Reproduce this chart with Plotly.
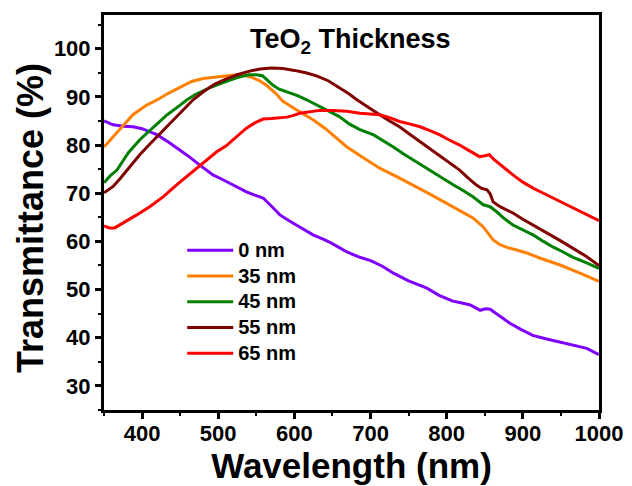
import plotly.graph_objects as go

# Transmittance spectra of TeO2 films of different thickness
labels = ["0 nm", "35 nm", "45 nm", "55 nm", "65 nm"]
colors = ["#8000FF", "#FF8000", "#008000", "#800000", "#FF0000"]

wl_0 = [350, 362, 375, 388, 400, 410, 420, 435, 450, 460, 472, 483, 493, 505, 515, 527, 537, 548,
        559, 570, 581, 592, 603, 614, 625, 637, 648, 659, 669, 686, 700, 715, 730, 750, 774, 790,
        808, 820, 831, 844, 851, 857, 870, 883, 898, 913, 930, 949, 965, 984, 1000]
t_0 = [85.0, 84.2, 83.9, 83.8, 83.4, 82.8, 82.1, 80.6, 79.0, 77.8, 76.3, 75.0, 73.8, 72.9, 72.1,
       71.1, 70.3, 69.6, 69.0, 67.3, 65.5, 64.4, 63.4, 62.3, 61.3, 60.5, 59.7, 58.7, 57.8, 56.7,
       56.0, 54.9, 53.4, 51.8, 50.3, 48.8, 47.6, 47.2, 46.8, 45.7, 46.0, 45.9, 44.5, 43.0, 41.7,
       40.5, 39.8, 39.1, 38.5, 37.8, 36.5]

wl_35 = [350, 362, 375, 388, 406, 420, 435, 450, 465, 480, 495, 510, 525, 535, 545, 555, 565, 575,
         585, 600, 612, 625, 640, 655, 669, 690, 712, 735, 756, 778, 800, 820, 835, 848, 855, 861,
         870, 880, 892, 905, 923, 949, 975, 1000]
t_35 = [79.6, 81.7, 84.2, 86.3, 88.3, 89.4, 90.8, 92.0, 93.2, 93.8, 94.1, 94.4, 94.6, 94.5, 94.0,
        93.3, 92.2, 90.8, 89.1, 87.6, 86.5, 85.2, 83.5, 81.5, 79.6, 77.4, 75.2, 73.4, 71.7, 69.8,
        67.9, 66.1, 64.8, 63.0, 61.5, 60.3, 59.3, 58.7, 58.2, 57.6, 56.5, 55.1, 53.4, 51.7]

wl_45 = [350, 358, 367, 375, 382, 397, 415, 433, 450, 459, 470, 490, 510, 525, 540, 550, 558, 565,
         572, 580, 595, 605, 616, 633, 646, 659, 672, 686, 704, 717, 730, 743, 756, 770, 783, 796,
         809, 822, 835, 848, 857, 866, 876, 887, 900, 914, 927, 940, 953, 966, 983, 1000]
t_45 = [72.2, 73.6, 74.8, 76.8, 78.4, 81.1, 83.8, 86.3, 88.3, 89.4, 90.5, 92.0, 93.2, 94.0, 94.6,
        94.6, 94.4, 93.4, 92.4, 91.6, 90.8, 90.2, 89.4, 88.0, 87.0, 85.9, 84.4, 83.2, 82.1, 80.9,
        79.6, 78.2, 76.9, 75.5, 74.2, 73.0, 71.7, 70.5, 69.2, 67.6, 67.2, 66.1, 64.7, 63.4, 62.4,
        61.3, 60.0, 58.8, 57.8, 56.7, 55.6, 54.4]

wl_55 = [350, 362, 371, 380, 388, 397, 409, 420, 430, 441, 454, 467, 480, 495, 510, 525, 540, 555,
         570, 585, 600, 615, 630, 645, 660, 672, 682, 697, 712, 725, 738, 751, 765, 778, 791, 804,
         817, 828, 839, 846, 853, 857, 861, 870, 887, 900, 914, 927, 940, 953, 966, 983, 1000]
t_55 = [70.1, 71.4, 73.0, 74.8, 76.4, 78.0, 80.0, 81.8, 83.5, 85.2, 87.4, 89.4, 91.0, 92.6, 93.7,
        94.6, 95.3, 95.8, 96.0, 95.9, 95.5, 95.0, 94.3, 93.3, 91.8, 90.6, 89.4, 87.8, 86.3, 85.0,
        83.8, 82.3, 80.7, 79.1, 77.6, 76.2, 74.8, 73.2, 71.7, 71.0, 70.7, 69.9, 68.2, 67.2, 65.9,
        64.6, 63.4, 62.2, 61.0, 59.8, 58.6, 56.9, 55.0]

wl_65 = [350, 357, 364, 375, 385, 393, 410, 428, 445, 463, 480, 498, 510, 520, 537, 548, 559, 570,
         581, 590, 598, 607, 616, 633, 650, 669, 686, 700, 712, 725, 738, 751, 765, 778, 791, 804,
         817, 830, 843, 850, 856, 862, 875, 887, 900, 914, 927, 940, 953, 966, 983, 1000]
t_65 = [63.2, 62.8, 62.8, 63.8, 64.7, 65.5, 67.2, 69.3, 71.7, 74.1, 76.2, 78.6, 79.8, 81.1, 83.5,
        84.6, 85.4, 85.5, 85.6, 85.8, 86.1, 86.6, 86.8, 87.2, 87.2, 87.0, 86.6, 86.5, 86.3, 85.7,
        84.9, 84.4, 83.8, 83.0, 82.1, 81.0, 80.0, 78.8, 77.6, 77.8, 78.0, 77.0, 75.3, 73.8, 72.3,
        71.0, 70.0, 69.0, 68.0, 66.9, 65.6, 64.3]

x_ticks = [400, 500, 600, 700, 800, 900, 1000]
y_ticks = [30, 40, 50, 60, 70, 80, 90, 100]

series = [(wl_0, t_0), (wl_35, t_35), (wl_45, t_45), (wl_55, t_55), (wl_65, t_65)]

FONT = "Liberation Sans, Arial, sans-serif"

fig = go.Figure()
for (wl, t), name, col in zip(series, labels, colors):
    # larger legend text while keeping compact legend rows
    fig.add_trace(go.Scatter(x=wl, y=t, mode="lines",
                             name=f"<span style='font-size:20px'>{name}</span>",
                             line=dict(color=col, width=3)))

axis_common = dict(
    showline=True, linecolor="black", linewidth=3, mirror=True,
    ticks="outside", ticklen=6, tickwidth=2.5, tickcolor="black",
    showgrid=False, zeroline=False, automargin=False,
    tickfont=dict(family=FONT, size=22, color="black", weight="bold"),
)

fig.update_xaxes(
    range=[350, 1000], tickvals=x_ticks, ticklabelstandoff=-4,
    minor=dict(ticks="outside", ticklen=3, tickwidth=2, tickcolor="black", dtick=50, tick0=0),
    title=dict(text="Wavelength (nm)", font=dict(family=FONT, size=35, color="black", weight="bold"),
               standoff=3),
    **axis_common,
)
fig.update_yaxes(
    range=[25, 107], tickvals=y_ticks,
    minor=dict(ticks="outside", ticklen=3, tickwidth=2, tickcolor="black", dtick=5, tick0=0),
    **axis_common,
)

# y-axis title
fig.add_annotation(
    text="Transmittance (%)", xref="paper", yref="paper",
    x=-0.1495, y=0.486, xanchor="center", yanchor="middle", textangle=-90, showarrow=False,
    font=dict(family=FONT, size=36, color="black", weight="bold"),
)

fig.add_annotation(
    text="TeO<sub>2</sub> Thickness", xref="paper", yref="paper",
    x=0.497, y=0.935, xanchor="center", yanchor="middle", showarrow=False,
    font=dict(family=FONT, size=27, color="black", weight="bold"),
)

fig.update_layout(
    width=632, height=486,
    margin=dict(l=104, r=33, t=15, b=76),
    paper_bgcolor="white", plot_bgcolor="white",
    showlegend=True,
    legend=dict(x=0.158, y=0.450, xanchor="left", yanchor="top",
                bgcolor="rgba(0,0,0,0)", borderwidth=0, itemwidth=46,
                font=dict(family=FONT, size=17.5, color="black", weight="bold"),
                tracegroupgap=0),
)

fig.write_html("out.html")
